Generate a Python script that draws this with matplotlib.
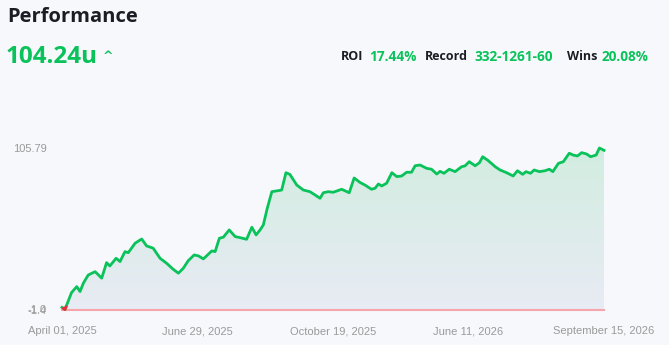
import numpy as np
import matplotlib
matplotlib.use("Agg")
import matplotlib.pyplot as plt
from matplotlib.patches import Polygon
from matplotlib.colors import LinearSegmentedColormap

# bet number (x) and cumulative units (y)
bets = [0, 9, 29, 45, 55, 65, 80, 101, 121, 136, 146, 165, 177, 192, 202, 223, 243, 258,
        278, 299, 319, 339, 355, 370, 385, 403, 416, 431, 441, 457, 467, 480, 492, 510,
        528, 543, 563, 579, 592, 604, 614, 626, 640, 660, 670, 683, 695, 716, 736, 756,
        772, 787, 797, 812, 827, 853, 876, 891, 909, 924, 944, 955, 965, 975, 990, 1006,
        1021, 1036, 1051, 1066, 1077, 1092, 1112, 1127, 1143, 1153, 1165, 1181, 1199,
        1219, 1229, 1242, 1260, 1273, 1283, 1300, 1321, 1336, 1356, 1376, 1389, 1405,
        1415, 1429, 1440, 1456, 1473, 1486, 1497, 1514, 1529, 1547, 1559, 1572, 1585,
        1600, 1612, 1629, 1639, 1653]
units = [0.0, -1.4, 9.8, 13.8, 10.5, 16.0, 21.5, 23.7, 19.4, 29.7, 27.5, 32.6, 30.4, 37.0,
         36.3, 42.6, 45.4, 40.8, 39.3, 32.6, 29.3, 25.3, 22.7, 26.0, 31.0, 34.8, 34.2,
         32.2, 34.2, 37.5, 37.0, 45.9, 46.6, 51.4, 47.0, 46.3, 45.2, 53.2, 48.1, 51.4,
         54.7, 65.8, 76.8, 77.5, 77.9, 89.4, 88.3, 81.2, 77.9, 76.8, 74.6, 72.4, 76.1,
         76.8, 76.4, 78.4, 76.1, 85.9, 82.9, 81.2, 78.4, 79.1, 81.9, 80.6, 82.4, 89.4,
         86.8, 87.2, 89.7, 89.7, 94.0, 94.5, 92.3, 91.7, 88.5, 90.3, 89.0, 91.7, 90.1,
         93.4, 93.9, 96.7, 94.0, 96.0, 100.0, 97.4, 93.4, 91.2, 89.4, 87.2, 90.7, 88.3,
         90.1, 89.0, 91.2, 90.1, 90.7, 91.7, 90.1, 95.6, 96.7, 102.3, 101.1, 100.5, 102.7,
         101.8, 100.0, 101.1, 105.79, 104.24]

x_labels = ["April 01, 2025", "June 29, 2025", "October 19, 2025", "June 11, 2026",
            "September 15, 2026"]
y_ticks = [-1.4, -1.0, 105.79]
y_tick_labels = ["-1.4", "-1.0", "105.79"]

stats = [("ROI", "17.44%"), ("Record", "332-1261-60"), ("Wins", "20.08%")]
total = "104.24u"

green = "#0ac25a"
bg = "#f7f8fc"
gray = "#9a9a9a"

x = np.array(bets, dtype=float)
y = np.array(units)
ymin, ymax = min(units), max(units)

fig = plt.figure(figsize=(6.69, 3.45), dpi=100, facecolor=bg)
W, H = 669, 345
ax = fig.add_axes([62 / W, (H - 309.5) / H, (604 - 62) / W, (309.5 - 148) / H])
ax.set_facecolor(bg)
ax.set_xlim(x[0], x[-1])
ax.set_ylim(ymin, ymax)

# gradient fill under the line
cmap = LinearSegmentedColormap.from_list("g", ["#e8ebf4", "#d2ede0"])
grad = np.linspace(0, 1, 256).reshape(-1, 1)
img = ax.imshow(grad, extent=[x[0], x[-1], ymin, ymax], origin="lower",
                aspect="auto", cmap=cmap, zorder=1)
poly = Polygon(np.column_stack([np.r_[x, x[-1], x[0]], np.r_[y, ymin, ymin]]),
               closed=True, transform=ax.transData, facecolor="none", edgecolor="none")
ax.add_patch(poly)
img.set_clip_path(poly)

ax.axhline(ymin, color="#f7a5ad", lw=1.5, zorder=2, clip_on=False)
ax.plot(x, y, color=green, lw=2.0, zorder=3, clip_on=False, solid_joinstyle="round")
# the stretch below zero is drawn in red
neg = np.where(y < 0)[0]
for i in neg:
    xs = [x[i - 1] + (x[i] - x[i - 1]) * 0.5, x[i], x[i] + (x[i + 1] - x[i]) * 0.15]
    ys = [(y[i - 1] + y[i]) / 2, y[i], y[i] + (y[i + 1] - y[i]) * 0.15]
    ax.plot(xs, ys, color="#ee2a3a", lw=2.0, zorder=4, clip_on=False)

for s in ax.spines.values():
    s.set_visible(False)
ax.set_xticks(np.linspace(x[0], x[-1], len(x_labels)))
ax.set_xticklabels(x_labels)
ax.set_yticks(y_ticks)
ax.set_yticklabels(y_tick_labels)
ax.tick_params(length=0, colors=gray, labelsize=8.0)
ax.tick_params(axis="x", pad=12)
ax.tick_params(axis="y", pad=11)
for lab in ax.get_xticklabels() + ax.get_yticklabels():
    lab.set_fontfamily("Liberation Sans")

# header
fig.text(7 / W, 1 - 17 / H, "Performance", fontsize=14.5, fontweight="bold",
         color="#1c1c24", va="center", ha="left", family="Open Sans")
fig.text(6 / W, 1 - 57 / H, total, fontsize=17.5, fontweight="bold", color=green,
         va="center", ha="left", family="Open Sans")
fig.text(108 / W, 1 - 57 / H, "^", fontsize=9, fontweight="bold", color=green,
         va="center", ha="center", family="DejaVu Sans")

lefts = [(341, 369), (425, 474), (567, 602)]
for (lab, val), (lx, vx) in zip(stats, lefts):
    fig.text(lx / W, 1 - 57 / H, lab, fontsize=9.0, fontweight="bold", color="#1c1c24",
             va="center", ha="left", family="Open Sans")
    fig.text(vx / W, 1 - 57 / H, val, fontsize=9.8, fontweight="bold", color=green,
             va="center", ha="left", family="Open Sans")

fig.savefig("out.png", dpi=100, facecolor=bg)
